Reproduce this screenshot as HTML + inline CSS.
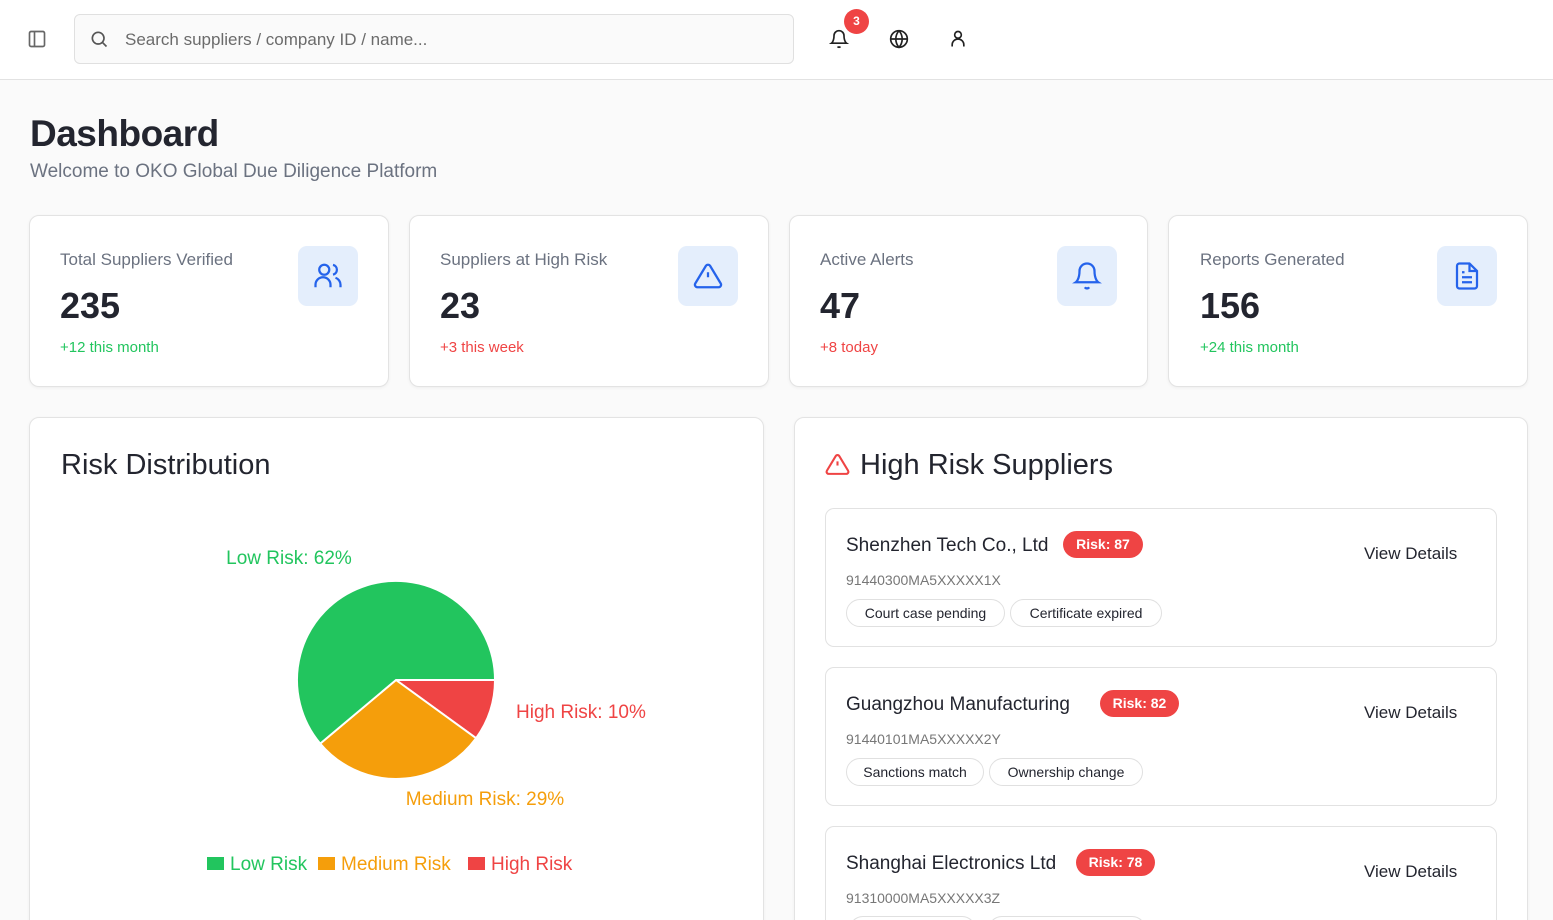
<!DOCTYPE html>
<html style="overflow:hidden;height:920px"><head><meta charset="utf-8"><style>
*{box-sizing:border-box;margin:0;padding:0}
html,body{width:1553px;height:920px;overflow:hidden}
body{background:#fafafa;font-family:"Liberation Sans",sans-serif;color:#1f2330}
#w{position:relative;width:1553px;height:920px;overflow:hidden}
.a{position:absolute;white-space:nowrap}
.hdr{position:absolute;left:0;top:0;width:1553px;height:80px;background:#fff;border-bottom:1px solid #e2e2e2}
.card{position:absolute;background:#fff;border:1px solid #e3e3e3;border-radius:10px;box-shadow:0 1px 3px rgba(0,0,0,.05)}
.lbl{font-size:17px;color:#6b7280}
.num{font-size:36px;font-weight:bold;color:#23252f}
.ib{position:absolute;width:60px;height:60px;border-radius:9px;background:#e4eefc;display:flex;align-items:center;justify-content:center}
.sc{position:absolute;left:825px;width:672px;height:139px;background:#fff;border:1px solid #e2e2e2;border-radius:9px}
.nm{font-size:19px;color:#23252f}
.bd{position:absolute;height:27px;background:#ef4444;color:#fff;border-radius:14px;font-size:14px;font-weight:bold;text-align:center;line-height:27px}
.id{font-size:14px;color:#777}
.tg{position:absolute;height:28px;border:1px solid #e0e0e0;border-radius:14px;font-size:14px;line-height:26px;text-align:center;color:#23252f}
.vd{font-size:17px;color:#23252f}
</style></head><body><div id="w">
<div class="hdr"></div>
<svg class="a" style="left:27px;top:29px" width="20" height="20" viewBox="0 0 24 24" fill="none" stroke="#666" stroke-width="2"><rect x="3" y="3" width="18" height="18" rx="2"/><line x1="9" y1="3" x2="9" y2="21"/></svg>
<div class="a" style="left:74px;top:14px;width:720px;height:50px;background:#fafafa;border:1px solid #e0e0e0;border-radius:6px"></div>
<svg class="a" style="left:89px;top:29px" width="20" height="20" viewBox="0 0 24 24" fill="none" stroke="#555" stroke-width="2"><circle cx="11" cy="11" r="7"/><line x1="16" y1="16" x2="21" y2="21"/></svg>
<div class="a" style="left:125px;top:30px;font-size:17px;color:#6b6b6b">Search suppliers / company ID / name...</div>
<svg class="a" style="left:829px;top:29px" width="20" height="20" viewBox="0 0 24 24" fill="none" stroke="#222" stroke-width="2"><path d="M6 8a6 6 0 0 1 12 0c0 7 3 9 3 9H3s3-2 3-9"/><path d="M10.3 21a2 2 0 0 0 3.4 0"/></svg>
<div class="a" style="left:844px;top:9px;width:25px;height:25px;border-radius:50%;background:#ef4444;color:#fff;font-size:12px;font-weight:bold;text-align:center;line-height:25px">3</div>
<svg class="a" style="left:889px;top:29px" width="20" height="20" viewBox="0 0 24 24" fill="none" stroke="#222" stroke-width="2"><circle cx="12" cy="12" r="10"/><line x1="2" y1="12" x2="22" y2="12"/><path d="M12 2a15 15 0 0 1 0 20a15 15 0 0 1 0-20"/></svg>
<svg class="a" style="left:948px;top:29px" width="20" height="20" viewBox="0 0 24 24" fill="none" stroke="#222" stroke-width="2"><circle cx="12" cy="7" r="4"/><path d="M5 21v-2a7 7 0 0 1 14 0v2"/></svg>

<div class="a" style="left:30px;top:113px;font-size:37px;font-weight:bold;color:#23252f;letter-spacing:-0.5px">Dashboard</div>
<div class="a" style="left:30px;top:161px;font-size:19px;color:#6b7280">Welcome to OKO Global Due Diligence Platform</div>

<div class="card" style="left:29px;top:215px;width:360px;height:172px"></div>
<div class="card" style="left:409px;top:215px;width:360px;height:172px"></div>
<div class="card" style="left:789px;top:215px;width:359px;height:172px"></div>
<div class="card" style="left:1168px;top:215px;width:360px;height:172px"></div>

<div class="a lbl" style="left:60px;top:250px">Total Suppliers Verified</div>
<div class="a num" style="left:60px;top:285px">235</div>
<div class="a" style="left:60px;top:339px;font-size:15px;color:#22c55e">+12 this month</div>
<div class="ib" style="left:298px;top:246px"><svg width="30" height="30" viewBox="0 0 24 24" fill="none" stroke="#2563eb" stroke-width="1.8"><circle cx="9" cy="7" r="4"/><path d="M2 21v-2a6 6 0 0 1 12 0v2"/><path d="M16 3.1a4 4 0 0 1 0 7.8"/><path d="M22 21v-2a6 6 0 0 0-4-5.6"/></svg></div>

<div class="a lbl" style="left:440px;top:250px">Suppliers at High Risk</div>
<div class="a num" style="left:440px;top:285px">23</div>
<div class="a" style="left:440px;top:339px;font-size:15px;color:#ef4444">+3 this week</div>
<div class="ib" style="left:678px;top:246px"><svg width="30" height="30" viewBox="0 0 24 24" fill="none" stroke="#2563eb" stroke-width="1.8"><path d="M10.3 3.9L1.8 18a2 2 0 0 0 1.7 3h17a2 2 0 0 0 1.7-3L13.7 3.9a2 2 0 0 0-3.4 0z"/><line x1="12" y1="9" x2="12" y2="13"/><line x1="12" y1="17" x2="12" y2="17.01"/></svg></div>

<div class="a lbl" style="left:820px;top:250px">Active Alerts</div>
<div class="a num" style="left:820px;top:285px">47</div>
<div class="a" style="left:820px;top:339px;font-size:15px;color:#ef4444">+8 today</div>
<div class="ib" style="left:1057px;top:246px"><svg width="30" height="30" viewBox="0 0 24 24" fill="none" stroke="#2563eb" stroke-width="1.8"><path d="M6 8a6 6 0 0 1 12 0c0 7 3 9 3 9H3s3-2 3-9"/><path d="M10.3 21a2 2 0 0 0 3.4 0"/></svg></div>

<div class="a lbl" style="left:1200px;top:250px">Reports Generated</div>
<div class="a num" style="left:1200px;top:285px">156</div>
<div class="a" style="left:1200px;top:339px;font-size:15px;color:#22c55e">+24 this month</div>
<div class="ib" style="left:1437px;top:246px"><svg width="30" height="30" viewBox="0 0 24 24" fill="none" stroke="#2563eb" stroke-width="1.8"><path d="M14 2H6a2 2 0 0 0-2 2v16a2 2 0 0 0 2 2h12a2 2 0 0 0 2-2V8z"/><polyline points="14 2 14 8 20 8"/><line x1="16" y1="13" x2="8" y2="13"/><line x1="16" y1="17" x2="8" y2="17"/><line x1="10" y1="9" x2="8" y2="9"/></svg></div>

<div class="card" style="left:29px;top:417px;width:735px;height:520px"></div>
<div class="card" style="left:794px;top:417px;width:734px;height:520px"></div>

<div class="a" style="left:61px;top:449px;font-size:29px;color:#23252f">Risk Distribution</div>
<svg class="a" style="left:0;top:0" width="780" height="920">
<path d="M396 680 L495 680 A99 99 0 0 1 476.1 738.2 Z" fill="#ef4444" stroke="#fff" stroke-width="2"/>
<path d="M396 680 L476.1 738.2 A99 99 0 0 1 320.2 743.6 Z" fill="#f59e0b" stroke="#fff" stroke-width="2"/>
<path d="M396 680 L320.2 743.6 A99 99 0 1 1 495 680 Z" fill="#22c55e" stroke="#fff" stroke-width="2"/>
<text x="289" y="564" text-anchor="middle" font-size="19" fill="#22c55e" font-family="Liberation Sans">Low Risk: 62%</text>
<text x="516" y="718" font-size="19" fill="#ef4444" font-family="Liberation Sans">High Risk: 10%</text>
<text x="485" y="805" text-anchor="middle" font-size="19" fill="#f59e0b" font-family="Liberation Sans">Medium Risk: 29%</text>
<rect x="207" y="857" width="17" height="13" fill="#22c55e"/>
<text x="230" y="870" font-size="19" fill="#22c55e" font-family="Liberation Sans">Low Risk</text>
<rect x="318" y="857" width="17" height="13" fill="#f59e0b"/>
<text x="341" y="870" font-size="19" fill="#f59e0b" font-family="Liberation Sans">Medium Risk</text>
<rect x="468" y="857" width="17" height="13" fill="#ef4444"/>
<text x="491" y="870" font-size="19" fill="#ef4444" font-family="Liberation Sans">High Risk</text>
</svg>

<svg class="a" style="left:825px;top:452px" width="25" height="25" viewBox="0 0 24 24" fill="none" stroke="#ef4444" stroke-width="2"><path d="M10.3 3.9L1.8 18a2 2 0 0 0 1.7 3h17a2 2 0 0 0 1.7-3L13.7 3.9a2 2 0 0 0-3.4 0z"/><line x1="12" y1="9" x2="12" y2="13"/><line x1="12" y1="17" x2="12" y2="17.01"/></svg>
<div class="a" style="left:860px;top:449px;font-size:29px;color:#23252f">High Risk Suppliers</div>

<div class="sc" style="top:508px"></div>
<div class="a nm" style="left:846px;top:535px">Shenzhen Tech Co., Ltd</div>
<div class="bd" style="left:1063px;top:531px;width:80px">Risk: 87</div>
<div class="a id" style="left:846px;top:572px">91440300MA5XXXXX1X</div>
<div class="tg" style="left:846px;top:599px;width:159px">Court case pending</div>
<div class="tg" style="left:1010px;top:599px;width:152px">Certificate expired</div>
<div class="a vd" style="left:1364px;top:544px">View Details</div>

<div class="sc" style="top:667px"></div>
<div class="a nm" style="left:846px;top:694px">Guangzhou Manufacturing</div>
<div class="bd" style="left:1100px;top:690px;width:79px">Risk: 82</div>
<div class="a id" style="left:846px;top:731px">91440101MA5XXXXX2Y</div>
<div class="tg" style="left:846px;top:758px;width:138px">Sanctions match</div>
<div class="tg" style="left:989px;top:758px;width:154px">Ownership change</div>
<div class="a vd" style="left:1364px;top:703px">View Details</div>

<div class="sc" style="top:826px"></div>
<div class="a nm" style="left:846px;top:853px">Shanghai Electronics Ltd</div>
<div class="bd" style="left:1076px;top:849px;width:79px">Risk: 78</div>
<div class="a id" style="left:846px;top:890px">91310000MA5XXXXX3Z</div>
<div class="tg" style="left:849px;top:916px;width:127px"></div>
<div class="tg" style="left:988px;top:916px;width:158px"></div>
<div class="a vd" style="left:1364px;top:862px">View Details</div>
</div></body></html>
